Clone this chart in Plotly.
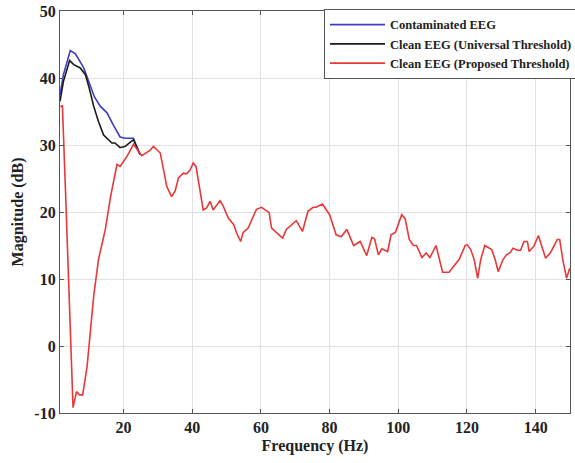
import plotly.graph_objects as go

# Contaminated EEG (blue)
freq_contaminated = [1.5, 2.5, 4.5, 6.0, 8.4, 10.3, 11.5, 13.2, 15.2, 17.0, 19.0, 20.5, 22.9, 23.4, 24.8]
mag_contaminated = [37.5, 40.5, 44.1, 43.6, 41.5, 38.7, 37.2, 35.8, 34.8, 33.0, 31.2, 31.0, 31.0, 30.3, 28.6]

# Clean EEG (Universal Threshold) (black)
freq_universal = [1.5, 2.5, 4.3, 5.5, 7.4, 8.9, 10.0, 11.3, 12.7, 14.2, 16.6, 17.5, 19.0, 20.5, 21.9, 22.9, 24.8]
mag_universal = [36.5, 39.5, 42.6, 42.0, 41.5, 40.5, 38.5, 35.8, 33.5, 31.5, 30.3, 30.3, 29.6, 29.8, 30.4, 30.8, 28.6]

# Clean EEG (Proposed Threshold) (red)
freq_proposed = [1.6, 2.2, 3.1, 4.0, 4.7, 5.3, 6.3, 7.2, 8.1, 9.4, 11.3, 12.7, 14.7, 16.3, 18.1, 19.0,
                 21.0, 22.9, 25.3, 27.7, 28.7, 29.7, 30.7, 32.6, 34.0, 35.0, 36.0, 37.4, 38.4, 39.4,
                 40.3, 41.1, 43.2, 44.2, 45.2, 46.1, 47.1, 48.1, 49.0, 50.5, 52.1, 52.9, 54.1, 54.8,
                 56.3, 58.7, 60.2, 61.4, 62.4, 63.1, 64.5, 66.3, 67.4, 68.9, 70.3, 72.1, 73.7, 75.2,
                 76.1, 77.9, 80.0, 81.9, 83.4, 85.0, 87.0, 88.9, 90.8, 92.3, 93.1, 94.2, 95.2, 96.9,
                 97.9, 99.2, 101.0, 102.0, 103.2, 104.4, 105.3, 106.9, 108.1, 109.2, 111.0, 112.9,
                 114.8, 116.3, 117.7, 119.5, 120.1, 121.1, 122.1, 123.1, 124.0, 125.2, 126.4, 127.2,
                 128.2, 129.1, 130.5, 131.5, 132.7, 133.4, 134.7, 135.6, 136.6, 137.6, 138.1, 139.5,
                 140.8, 142.9, 144.4, 146.3, 147.0, 147.9, 149.0, 149.9]
mag_proposed = [35.7, 35.9, 23.2, 9.9, -0.1, -9.2, -6.8, -7.3, -7.3, -3.0, 7.4, 12.9, 17.4, 22.5, 27.1, 26.8,
                28.3, 30.1, 28.4, 29.2, 29.8, 29.3, 28.8, 23.8, 22.3, 23.1, 25.1, 25.8, 25.7, 26.3,
                27.3, 26.8, 20.3, 20.6, 21.6, 20.3, 21.1, 21.7, 20.9, 19.1, 18.1, 16.9, 15.6, 16.9,
                17.6, 20.4, 20.7, 20.3, 19.9, 17.6, 16.9, 16.1, 17.4, 18.1, 18.7, 17.1, 20.1, 20.7,
                20.7, 21.2, 19.6, 16.6, 16.3, 17.4, 15.0, 15.6, 13.5, 16.2, 16.0, 13.6, 14.5, 14.1,
                16.6, 17.0, 19.6, 19.0, 15.9, 15.0, 15.0, 13.2, 13.9, 13.2, 15.0, 11.0,
                11.0, 12.0, 12.9, 15.0, 15.1, 14.4, 12.9, 10.1, 12.9, 15.0, 14.7, 14.4,
                12.9, 11.1, 12.9, 13.6, 14.0, 14.6, 14.3, 14.3, 15.6, 15.6, 14.1, 14.9,
                16.5, 13.1, 14.0, 15.9, 15.9, 12.9, 10.1, 11.6]

x_ticks = [20, 40, 60, 80, 100, 120, 140]
y_ticks = [-10, 0, 10, 20, 30, 40, 50]

FONT = "Liberation Serif"

fig = go.Figure()
fig.add_trace(go.Scatter(x=freq_contaminated, y=mag_contaminated, mode="lines",
                         name="<b>Contaminated EEG</b>", line=dict(color="#3d3dc0", width=1.6)))
fig.add_trace(go.Scatter(x=freq_universal, y=mag_universal, mode="lines",
                         name="<b>Clean EEG (Universal Threshold)</b>", line=dict(color="#1a1a1a", width=1.6)))
fig.add_trace(go.Scatter(x=freq_proposed, y=mag_proposed, mode="lines",
                         name="<b>Clean EEG (Proposed Threshold)</b>", line=dict(color="#e83838", width=1.6)))

axis_common = dict(showline=True, linecolor="#555555", linewidth=1.2, mirror="ticks",
                   ticks="inside", ticklen=4, tickcolor="#555555",
                   showgrid=True, gridcolor="#e2e2e2", gridwidth=1, zeroline=False,
                   automargin=False,
                   tickfont=dict(family=FONT, size=16, color="#222222"))

fig.update_xaxes(range=[1.5, 150], tickvals=x_ticks, ticktext=[f"<b>{t}</b>" for t in x_ticks],
                 title=dict(text="<b>Frequency (Hz)</b>", font=dict(family=FONT, size=16, color="#222222"),
                            standoff=4),
                 **axis_common)
fig.update_yaxes(range=[-10, 50], tickvals=y_ticks, ticktext=[f"<b>{t}</b>" for t in y_ticks],
                 title=dict(text="<b>Magnitude (dB)</b>", font=dict(family=FONT, size=16, color="#222222"),
                            standoff=6),
                 **axis_common)

fig.update_layout(
    width=575, height=463,
    margin=dict(l=60, r=5, t=11, b=50, autoexpand=False),
    plot_bgcolor="white", paper_bgcolor="white",
    font=dict(family=FONT, color="#222222"),
    legend=dict(x=0.5176, xanchor="left", y=1.005, yanchor="top",
                bgcolor="white", bordercolor="#555555", borderwidth=1,
                font=dict(family=FONT, size=12.5, color="#222222"),
                tracegroupgap=0, itemwidth=55),
    showlegend=True,
)

fig.write_html("out.html", config={"displayModeBar": False},
               post_script="document.body.style.margin='0';document.body.style.overflow='hidden';")
